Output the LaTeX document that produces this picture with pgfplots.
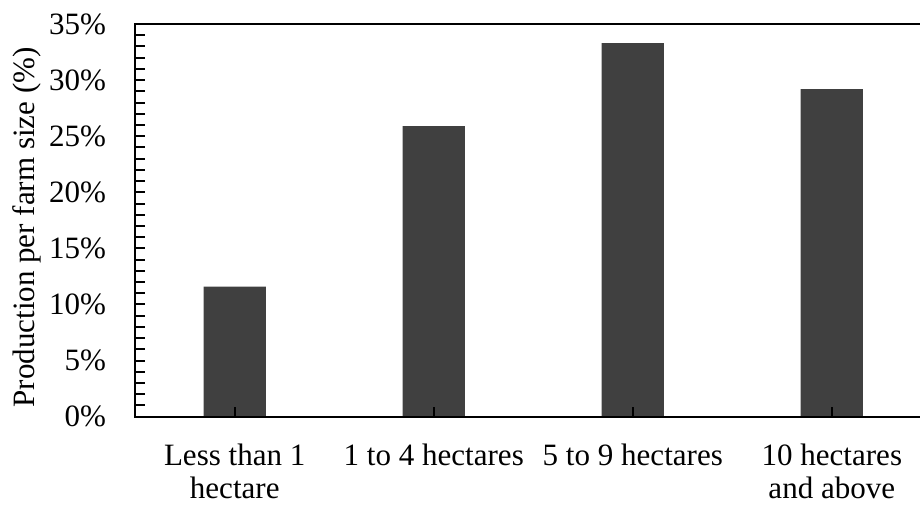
\documentclass[border=0pt]{standalone}
\usepackage{fontspec}
\setmainfont{Liberation Serif}
\usepackage{pgfplots}
\pgfplotsset{compat=1.18}

\definecolor{barfill}{RGB}{64,64,64}

\begin{document}
\begin{tikzpicture}
\begin{axis}[
    name=ax,
    scale only axis,
    width=392.5pt,
    height=196pt,
    xmin=-0.5, xmax=3.45,
    ymin=0, ymax=35,
    ybar,
    bar width=0.313,
    bar shift=0pt,
    axis on top,
    axis line style={line width=1.1pt},
    tick style={line width=1pt, black},
    xtick=data,
    xtick pos=bottom,
    xtick align=inside,
    xticklabels={Less than 1\\hectare, 1 to 4 hectares, 5 to 9 hectares, 10 hectares\\and above},
    x tick label style={align=center, font=\fontsize{15.5}{16.5}\selectfont, yshift=-10pt},
    ytick={0,5,...,35},
    minor y tick num=4,
    ytick pos=left,
    ytick align=inside,
    major tick length=5pt,
    minor tick length=5pt,
    /pgf/number format/assume math mode=true,
    yticklabel={\pgfmathprintnumber{\tick}\%},
    y tick label style={font=\fontsize{15.5}{16.5}\selectfont, xshift=-11pt},
    ylabel={Production per farm size (\%)},
    every axis y label/.style={at={(rel axis cs:0,0.5)}, rotate=90, anchor=center,
        yshift=54pt, xshift=-3.5pt, font=\fontsize{15.5}{16.5}\selectfont},
]
\addplot[fill=barfill, draw=none] coordinates {
    (0, 11.6)
    (1, 25.9)
    (2, 33.3)
    (3, 29.2)
};
\end{axis}
\pgfresetboundingbox
\path ([shift={(-67.5pt,-44pt)}]ax.south west) rectangle ([shift={(-0.7pt,12pt)}]ax.north east);
\end{tikzpicture}
\end{document}
